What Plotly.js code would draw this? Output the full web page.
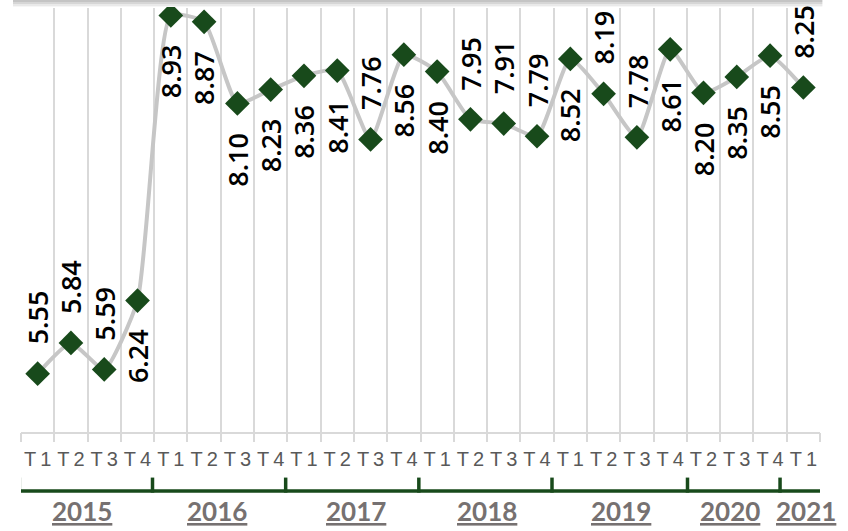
<!DOCTYPE html>
<html>
<head>
<meta charset="utf-8">
<script src="https://cdn.plot.ly/plotly-3.0.1.min.js"></script>
<style>
  html, body { margin: 0; padding: 0; background: #ffffff; }
  #chart { width: 848px; height: 531px; }
</style>
</head>
<body>
<div id="chart"></div>
<script>
// ---- data ----
const quarterKeys = [
  '2015 T1','2015 T2','2015 T3','2015 T4',
  '2016 T1','2016 T2','2016 T3','2016 T4',
  '2017 T1','2017 T2','2017 T3','2017 T4',
  '2018 T1','2018 T2','2018 T3','2018 T4',
  '2019 T1','2019 T2','2019 T3','2019 T4',
  '2020 T2','2020 T3','2020 T4',
  '2021 T1'
];
const quarterLabels = [
  'T1','T2','T3','T4','T1','T2','T3','T4','T1','T2','T3','T4',
  'T1','T2','T3','T4','T1','T2','T3','T4','T2','T3','T4','T1'
];
const values = [
  5.55, 5.84, 5.59, 6.24,
  8.93, 8.87, 8.10, 8.23,
  8.36, 8.41, 7.76, 8.56,
  8.40, 7.95, 7.91, 7.79,
  8.52, 8.19, 7.78, 8.61,
  8.20, 8.35, 8.55,
  8.25
];
const years = ['2015','2016','2017','2018','2019','2020','2021'];

// ---- layout helpers (positions / styles) ----
const labelSide = [
  'up','up','up','down',
  'down','down','down','down',
  'down','down','up','down',
  'down','up','up','up',
  'down','up','up','down',
  'down','down','down',
  'up'
];
const yearLabelX = [1.33, 5.38, 9.55, 13.5, 17.52, 20.79, 23.07];
const bracketX = [-0.55, 3.45, 7.45, 11.45, 15.45, 19.52, 22.3, 23.65];

const green = '#184a1b';
const idx = quarterKeys.map((_, i) => i);

const trace = {
  x: idx,
  y: values,
  type: 'scatter',
  mode: 'lines+markers',
  line: { color: '#c6c6c6', width: 4, shape: 'spline', smoothing: 0.5 },
  marker: { symbol: 'diamond', size: 19, color: green },
  hoverinfo: 'skip',
  cliponaxis: false
};

const annotations = values.map((v, i) => ({
  x: i, y: v, xref: 'x', yref: 'y',
  text: v.toFixed(2),
  textangle: -90,
  showarrow: false,
  font: { family: 'Open Sans', size: 27, color: '#000000', weight: 600 },
  xanchor: 'center',
  yanchor: labelSide[i] === 'up' ? 'bottom' : 'top',
  yshift: labelSide[i] === 'up' ? 27 : -27,
  xshift: 0
}));

years.forEach((yr, k) => {
  annotations.push({
    x: yearLabelX[k], xref: 'x',
    y: -0.186, yref: 'paper',
    text: '<b><u>' + yr + '</u></b>',
    showarrow: false,
    xanchor: 'center', yanchor: 'middle',
    font: { family: 'Lato', size: 26, color: '#767171', weight: 900 }
  });
});

const shapes = [];
// bracket horizontal line
shapes.push({
  type: 'line', xref: 'x', yref: 'paper',
  x0: bracketX[0], x1: bracketX[bracketX.length - 1],
  y0: -0.139, y1: -0.139,
  line: { color: green, width: 3.5 }
});
bracketX.forEach(bx => {
  shapes.push({
    type: 'line', xref: 'x', yref: 'paper',
    x0: bx, x1: bx, y0: -0.1075, y1: -0.143,
    line: { color: green, width: 3.5 }
  });
});
// top shadow remnant
const shadeBands = [
  { y0: 0, y1: 2, c: '#c4c4c4' },
  { y0: 2, y1: 4, c: '#d6d6d6' },
  { y0: 4, y1: 6, c: '#e9e9e9' },
  { y0: 6, y1: 7, c: '#f6f6f6' }
];
shadeBands.forEach(b => {
  shapes.push({
    type: 'rect', xref: 'paper', yref: 'paper',
    x0: -0.01, x1: 1.003,
    y0: (432 - b.y1) / 424, y1: (432 - b.y0) / 424,
    fillcolor: b.c, line: { width: 0 }, layer: 'above'
  });
});

const layout = {
  width: 848, height: 531,
  margin: { l: 21, r: 28, t: 8, b: 99 },
  paper_bgcolor: '#ffffff',
  plot_bgcolor: '#ffffff',
  showlegend: false,
  xaxis: {
    type: 'linear',
    range: [-0.5, 23.5],
    tickmode: 'array',
    tickvals: idx,
    ticktext: quarterLabels.map(t => t[0] + '\u2009' + t.slice(1)),
    showgrid: false,
    zeroline: false,
    showline: true,
    linecolor: '#d9d9d9',
    linewidth: 2,
    ticks: '',
    tickfont: { family: 'Liberation Sans', size: 20, color: '#595959' },
    ticklabelstandoff: 8,
    fixedrange: true
  },
  xaxis2: {
    overlaying: 'x',
    matches: 'x',
    type: 'linear',
    range: [-0.5, 23.5],
    tickmode: 'array',
    tickvals: idx.concat([idx.length]).map(i => i - 0.5),
    showticklabels: false,
    showgrid: true,
    gridcolor: '#d9d9d9',
    gridwidth: 2,
    ticks: 'outside',
    ticklen: 9,
    tickwidth: 2,
    tickcolor: '#d9d9d9',
    side: 'bottom',
    anchor: 'y',
    zeroline: false,
    showline: false,
    fixedrange: true
  },
  yaxis: {
    range: [5, 9],
    visible: false,
    showgrid: false,
    zeroline: false,
    fixedrange: true
  },
  annotations: annotations,
  shapes: shapes
};

// invisible trace on xaxis2 so the boundary grid axis is drawn
const gridTrace = {
  x: [0], y: [5], xaxis: 'x2', yaxis: 'y', type: 'scatter', mode: 'markers',
  marker: { opacity: 0 }, hoverinfo: 'skip', showlegend: false
};

Plotly.newPlot('chart', [gridTrace, trace], layout, { displayModeBar: false, staticPlot: true });
</script>
</body>
</html>
